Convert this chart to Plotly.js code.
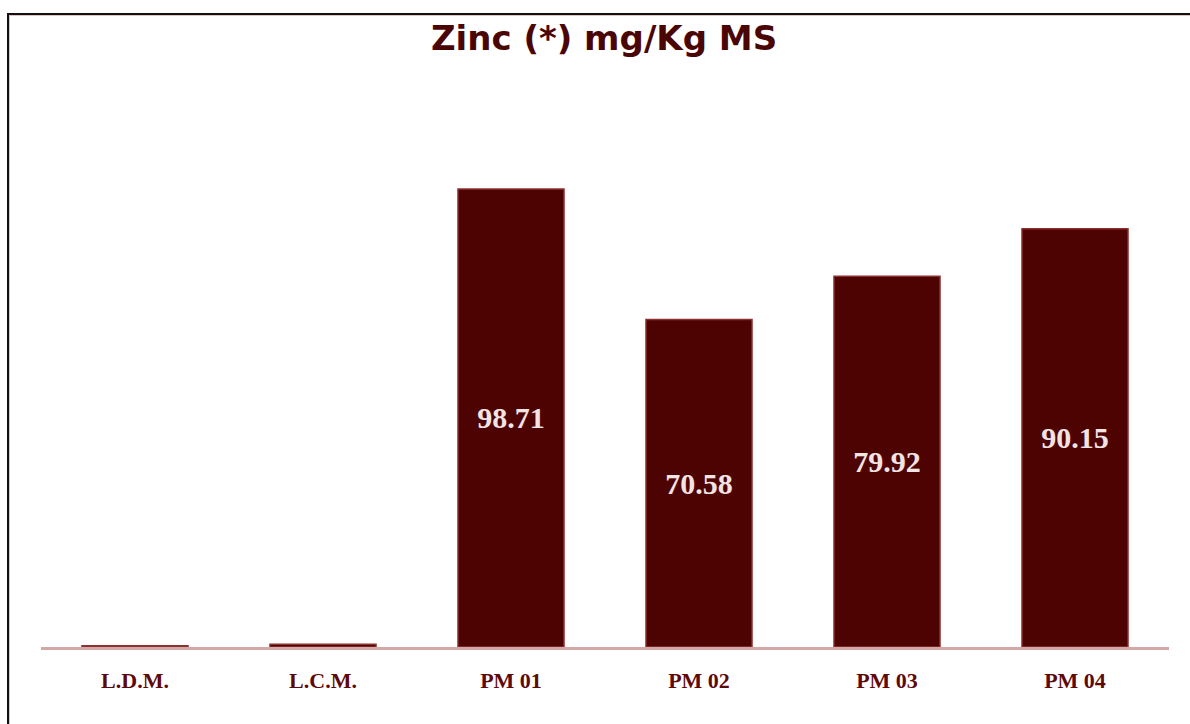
<!DOCTYPE html>
<html>
<head>
<meta charset="utf-8">
<script src="https://cdn.plot.ly/plotly-3.0.1.min.js"></script>
<style>
  html, body { margin: 0; padding: 0; background: #ffffff; }
  #wrap { position: relative; width: 1190px; height: 724px; overflow: hidden; }
  #chart { position: absolute; left: 0; top: 0; width: 1190px; height: 724px; }
  #frame { position: absolute; left: 7px; top: 13px; width: 1200px; height: 720px;
           border-left: 2px solid #111; border-top: 2px solid #111; pointer-events: none;
           box-shadow: inset 1px 1px 0 #e0c4c4; }
</style>
</head>
<body>
<div id="wrap">
  <div id="chart"></div>
  <div id="frame"></div>
</div>
<script>
const categories = ["L.D.M.", "L.C.M.", "PM 01", "PM 02", "PM 03", "PM 04"];
const zincValues = [0.25, 0.6, 98.71, 70.58, 79.92, 90.15];
const valueLabels = ["0.25", "0.60", "98.71", "70.58", "79.92", "90.15"];
const chartTitle = "Zinc (*) mg/Kg MS";

const trace = {
  type: "bar",
  x: categories,
  y: zincValues,
  text: valueLabels,
  textposition: "inside",
  insidetextanchor: "middle",
  textangle: 0,
  textfont: { family: "Liberation Serif, serif", size: 30, color: "#f3e4e4", weight: "bold" },
  marker: { color: "#4e0303", line: { color: "#8d3030", width: 1.5 } },
  hoverinfo: "x+y"
};

const layout = {
  width: 1190,
  height: 724,
  paper_bgcolor: "#ffffff",
  plot_bgcolor: "#ffffff",
  margin: { l: 41, r: 21, t: 80, b: 77 },
  showlegend: false,
  bargap: 0.436,
  uniformtext: { minsize: 14, mode: "hide" },
  title: {
    text: chartTitle,
    font: { family: "DejaVu Sans, sans-serif", size: 34, color: "#4a0505", weight: "bold" },
    x: 0.5076, xanchor: "center", xref: "container",
    y: 0.947, yanchor: "middle", yref: "container"
  },
  xaxis: {
    type: "category",
    showgrid: false,
    zeroline: false,
    showline: true,
    linecolor: "#d4a7a7",
    linewidth: 3,
    ticks: "",
    ticklabelstandoff: 12,
    tickfont: { family: "Liberation Serif, serif", size: 22, color: "#5e0808", weight: "bold" }
  },
  yaxis: {
    range: [0, 122.2],
    visible: false,
    showgrid: false,
    zeroline: false,
    fixedrange: true
  }
};

Plotly.newPlot("chart", [trace], layout, { displayModeBar: false, staticPlot: true });
</script>
</body>
</html>
